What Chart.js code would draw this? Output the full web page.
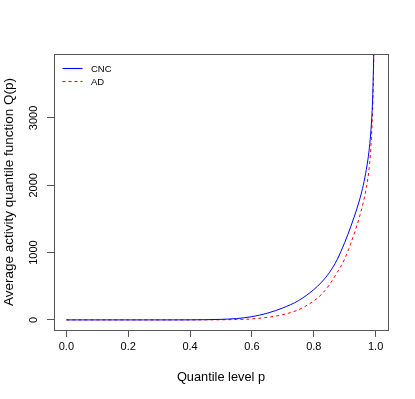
<!DOCTYPE html>
<html>
<head>
<meta charset="utf-8">
<script src="https://cdn.jsdelivr.net/npm/chart.js@4/dist/chart.umd.min.js"></script>
<style>
html,body{margin:0;padding:0;background:#fff;}
#wrap{width:415px;height:399px;position:relative;}
</style>
</head>
<body>
<div id="wrap"><canvas id="c" width="415" height="399"></canvas></div>
<script>
// Quantile levels and quantile function values
const pLevels = [0, 0.05, 0.1, 0.15, 0.2, 0.25, 0.3, 0.35, 0.4, 0.45, 0.5, 0.55, 0.6, 0.65, 0.7, 0.75, 0.8, 0.825, 0.85, 0.875, 0.9, 0.92, 0.94, 0.95, 0.96, 0.97, 0.975, 0.98, 0.985, 0.99, 0.993, 0.995];
const cncValues = [0, 0, 0, 0, 0, 0, 0, 0, 1, 3, 8, 20, 48, 100, 178, 285, 450, 560, 700, 890, 1150, 1390, 1660, 1815, 2000, 2235, 2380, 2565, 2825, 3250, 3750, 4250];
const adValues  = [0, 0, 0, 0, 0, 0, 0, 0, 0, 1, 2, 6, 15, 38, 78, 150, 282, 380, 520, 700, 905, 1140, 1410, 1565, 1745, 1965, 2105, 2295, 2595, 3095, 3635, 4235];
const seriesNames = ['CNC', 'AD'];
const seriesColors = ['rgb(0,0,255)', 'rgb(255,0,0)'];
const seriesDashes = [[], [3, 3]];
const xTickValues = [0, 0.2, 0.4, 0.6, 0.8, 1.0];
const yTickValues = [0, 1000, 2000, 3000];
const xTitle = 'Quantile level p';
const yTitle = 'Average activity quantile function Q(p)';

const FONT = "'Liberation Sans', Arial, Helvetica, sans-serif";

const boxPlugin = {
  id: 'box',
  afterDatasetsDraw(chart) {
    const a = chart.chartArea, ctx = chart.ctx;
    ctx.save();
    ctx.strokeStyle = '#555';
    ctx.lineWidth = 1;
    ctx.setLineDash([]);
    ctx.strokeRect(Math.round(a.left) + 0.5, Math.round(a.top) + 0.5, Math.round(a.right - a.left), Math.round(a.bottom - a.top));
    ctx.restore();
  }
};

// R-style legend without a frame, in the top-left corner of the plot
const legendPlugin = {
  id: 'rlegend',
  afterDatasetsDraw(chart) {
    const a = chart.chartArea, ctx = chart.ctx;
    seriesNames.forEach((name, i) => {
      const y = Math.round(a.top + 13.5 + i * 13) + 0.5;
      ctx.save();
      ctx.globalAlpha = 1;
      ctx.lineWidth = 1.1;
      ctx.lineCap = 'butt';
      ctx.strokeStyle = seriesColors[i];
      ctx.setLineDash(seriesDashes[i]);
      ctx.beginPath();
      ctx.moveTo(a.left + 8.5, y);
      ctx.lineTo(a.left + 28.5, y);
      ctx.stroke();
      ctx.restore();
      ctx.save();
      ctx.fillStyle = '#000';
      ctx.font = "9.5px 'Liberation Sans Narrow', " + FONT;
      ctx.textBaseline = 'middle';
      ctx.textAlign = 'left';
      ctx.fillText(name, a.left + 37, y + 0.5);
      ctx.restore();
    });
  }
};

new Chart(document.getElementById('c'), {
  type: 'line',
  data: {
    datasets: [
      {
        label: seriesNames[0],
        data: pLevels.map((p, i) => ({x: p, y: cncValues[i]})),
        borderColor: seriesColors[0],
        backgroundColor: seriesColors[0],
        borderWidth: 1,
        borderDash: seriesDashes[0],
        pointRadius: 0,
        cubicInterpolationMode: 'monotone',
        clip: 0
      },
      {
        label: seriesNames[1],
        data: pLevels.map((p, i) => ({x: p, y: adValues[i]})),
        borderColor: seriesColors[1],
        backgroundColor: seriesColors[1],
        borderWidth: 1,
        borderDash: seriesDashes[1],
        pointRadius: 0,
        cubicInterpolationMode: 'monotone',
        clip: 0
      }
    ]
  },
  options: {
    responsive: false,
    animation: false,
    events: [],
    layout: { padding: { top: 54, right: 27, left: 0, bottom: 0 } },
    plugins: {
      tooltip: { enabled: false },
      legend: { display: false }
    },
    scales: {
      x: {
        type: 'linear',
        min: -0.04,
        max: 1.04,
        afterBuildTicks: s => { s.ticks = xTickValues.map(v => ({value: v})); },
        afterFit: s => { s.height = 69; },
        grid: { drawOnChartArea: false, tickLength: 7, color: '#555' },
        border: { display: true, color: '#555' },
        ticks: {
          color: '#000',
          padding: 3,
          maxRotation: 0,
          font: { family: FONT, size: 11 },
          callback: v => Number(v).toFixed(1)
        },
        title: {
          display: true,
          text: xTitle,
          color: '#000',
          font: { family: FONT, size: 12.8 },
          padding: { top: 0, bottom: 14 }
        }
      },
      y: {
        type: 'linear',
        min: -150,
        max: 3950,
        afterBuildTicks: s => { s.ticks = yTickValues.map(v => ({value: v})); },
        afterFit: s => { s.width = 54; },
        grid: { drawOnChartArea: false, tickLength: 7, color: '#555' },
        border: { display: true, color: '#555' },
        ticks: {
          color: '#000',
          padding: 1,
          minRotation: 90,
          maxRotation: 90,
          crossAlign: 'center',
          font: { family: FONT, size: 11 },
          callback: v => String(v)
        },
        title: {
          display: true,
          text: yTitle,
          color: '#000',
          font: { family: FONT, size: 13.5 },
          padding: { top: 1, bottom: 0 }
        }
      }
    }
  },
  plugins: [boxPlugin, legendPlugin]
});
</script>
</body>
</html>
